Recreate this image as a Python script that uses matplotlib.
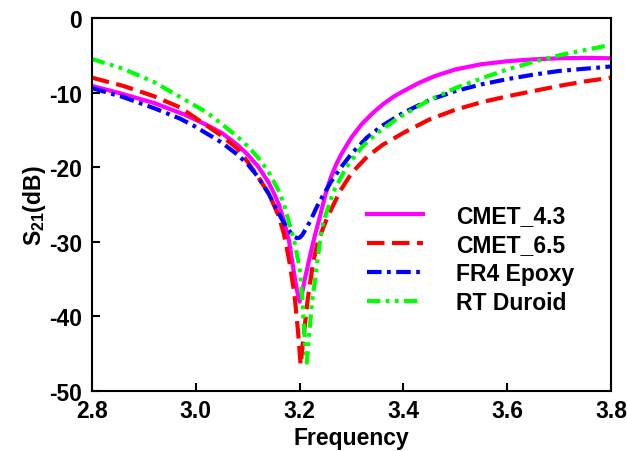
import matplotlib
matplotlib.use("Agg")
import matplotlib.pyplot as plt

# Leitura aproximada das curvas S21 (dB) x frequência
freq_43 = [2.80, 2.86, 2.92, 2.98, 3.02, 3.05, 3.08, 3.10, 3.12, 3.14, 3.15, 3.16, 3.17,
           3.18, 3.185, 3.19, 3.195, 3.200, 3.205, 3.21, 3.215, 3.22, 3.23, 3.24,
           3.25, 3.26, 3.27, 3.28, 3.30, 3.32, 3.34, 3.36, 3.38, 3.40, 3.43, 3.46,
           3.50, 3.55, 3.60, 3.65, 3.70, 3.75, 3.80]
s21_43 = [-9.1, -10.2, -11.4, -13.0, -14.3, -15.4, -17.0, -18.3, -19.9, -22.0, -23.4, -25.0, -27.2,
          -30.0, -32.3, -34.5, -36.5, -38.0, -36.8, -35.0, -33.5, -31.9, -29.0, -26.4,
          -23.6, -21.4, -19.7, -18.3, -16.0, -14.2, -12.8, -11.6, -10.6, -9.8, -8.7, -7.8,
          -6.9, -6.2, -5.8, -5.55, -5.4, -5.35, -5.4]

freq_65 = [2.80, 2.86, 2.92, 2.97, 3.01, 3.05, 3.08, 3.10, 3.12, 3.14, 3.15, 3.16, 3.17,
           3.18, 3.19, 3.197, 3.202, 3.208, 3.216, 3.226, 3.235, 3.253, 3.278, 3.30,
           3.33, 3.36, 3.40, 3.45, 3.50, 3.55, 3.60, 3.65, 3.70, 3.75, 3.80]
s21_65 = [-8.0, -9.1, -10.5, -12.0, -13.9, -15.8, -17.5, -19.3, -21.3, -23.5, -25.0, -26.6, -29.0,
          -32.5, -37.0, -42.0, -46.5, -42.5, -37.5, -32.8, -30.0, -26.8, -23.2, -20.8,
          -18.6, -17.0, -15.4, -13.6, -12.3, -11.3, -10.5, -9.8, -9.1, -8.5, -8.0]

freq_fr4 = [2.80, 2.86, 2.92, 2.97, 3.00, 3.05, 3.08, 3.10, 3.12, 3.14, 3.15, 3.16, 3.17,
            3.18, 3.185, 3.19, 3.195, 3.20, 3.205, 3.21, 3.22, 3.234, 3.245, 3.26, 3.28,
            3.30, 3.33, 3.36, 3.40, 3.45, 3.50, 3.55, 3.60, 3.65, 3.70, 3.75, 3.80]
s21_fr4 = [-9.4, -10.6, -12.1, -13.5, -14.6, -16.7, -18.3, -19.6, -21.3, -23.5, -24.9, -26.2, -27.5,
           -28.5, -29.0, -29.35, -29.5, -29.45, -29.1, -28.5, -27.3, -25.2, -23.8, -22.0, -20.0,
           -18.2, -16.0, -14.4, -12.7, -11.0, -9.8, -8.9, -8.2, -7.6, -7.1, -6.8, -6.5]

freq_rt = [2.80, 2.86, 2.92, 2.97, 3.02, 3.05, 3.08, 3.10, 3.12, 3.14, 3.16, 3.17,
           3.18, 3.19, 3.20, 3.205, 3.208, 3.211, 3.214, 3.216, 3.219, 3.224, 3.23,
           3.235, 3.24, 3.245, 3.265, 3.29, 3.32, 3.35, 3.39, 3.45, 3.50, 3.55, 3.60,
           3.65, 3.70, 3.75, 3.80]
s21_rt = [-5.5, -6.8, -8.6, -10.6, -12.6, -14.2, -15.9, -17.2, -18.7, -20.6, -23.2, -25.0,
          -27.5, -30.0, -33.5, -37.5, -41.0, -44.0, -46.2, -44.5, -42.0, -38.0, -35.0,
          -32.2, -29.6, -27.5, -23.3, -20.0, -17.3, -15.4, -13.4, -11.0, -9.4, -8.1, -6.9,
          -5.9, -5.0, -4.3, -3.6]

labels = ["CMET_4.3", "CMET_6.5", "FR4 Epoxy", "RT Duroid"]

plt.rcParams["font.family"] = ["Liberation Sans", "DejaVu Sans"]
plt.rcParams["font.weight"] = "bold"
plt.rcParams["axes.unicode_minus"] = False
plt.rcParams["mathtext.fontset"] = "custom"
plt.rcParams["mathtext.rm"] = "Liberation Sans:bold"
plt.rcParams["mathtext.bf"] = "Liberation Sans:bold"

fig = plt.figure(figsize=(6.27, 4.52), dpi=100)
ax = fig.add_axes([0.1467, 0.1327, 0.8278, 0.8253])

ax.plot(freq_43, s21_43, color="#ff00ff", lw=3, ls="-", label=labels[0])
ax.plot(freq_65, s21_65, color="#ff0000", lw=3, ls=(0, (4.2, 1.8)), label=labels[1])
ax.plot(freq_fr4, s21_fr4, color="#0000ff", lw=3, ls=(0, (3.5, 1.3, 0.9, 1.3)), label=labels[2])
ax.plot(freq_rt, s21_rt, color="#00ff00", lw=3, ls=(0, (3.2, 1.3, 0.9, 1.3, 0.9, 1.3)), label=labels[3])

ax.set_xlim(2.8, 3.8)
ax.set_ylim(-50, 0)
ax.set_xticks([2.8, 3.0, 3.2, 3.4, 3.6, 3.8])
ax.set_xticklabels(["2.8", "3.0", "3.2", "3.4", "3.6", "3.8"])
ax.set_yticks([0, -10, -20, -30, -40, -50])
ax.tick_params(direction="in", length=6, width=1.5, labelsize=16.5, top=False, right=False)
ax.tick_params(axis="y", pad=7)
ax.tick_params(axis="x", pad=6)
for sp in ax.spines.values():
    sp.set_linewidth(1.5)

ax.set_xlabel("Frequency", fontsize=16.5, fontweight="bold", labelpad=2.5)
ax.set_ylabel(r"S$_\mathbf{21}$(dB)", fontsize=16.5, fontweight="bold", labelpad=1)

leg = ax.legend(loc="upper left", bbox_to_anchor=(0.49, 0.556), frameon=False,
                fontsize=16.5, handlelength=2.45, handletextpad=1.45, labelspacing=0.26)

fig.savefig("out.png", dpi=100)
